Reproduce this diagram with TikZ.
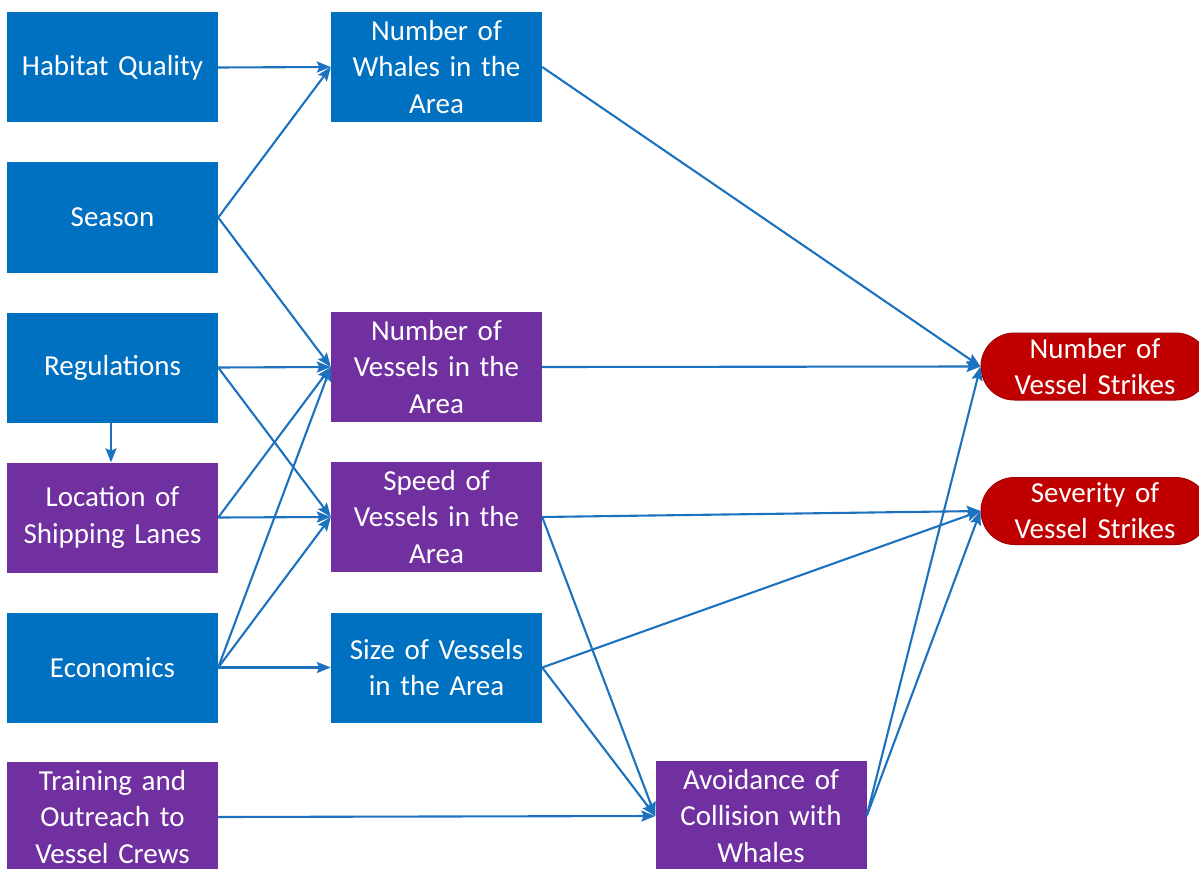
\documentclass[tikz,border=0pt]{standalone}
\usepackage{fontspec}
\setmainfont{Carlito}
\usetikzlibrary{arrows.meta,shapes.misc}
\definecolor{bblue}{HTML}{0070C0}
\definecolor{bpurple}{HTML}{7030A0}
\definecolor{bred}{HTML}{C00000}
\definecolor{ared}{HTML}{A00000}
\definecolor{arrowc}{HTML}{1C72BE}
\begin{document}
\begin{tikzpicture}[x=1pt,y=-1pt,
  boxbase/.style={inner sep=0pt, minimum width=211pt, minimum height=110pt, text width=205pt, align=center, text=white, font=\fontsize{29}{36.5}\selectfont},
  bluebox/.style={boxbase, fill=bblue},
  purplebox/.style={boxbase, fill=bpurple},
  redbox/.style={rounded rectangle, inner sep=0pt, minimum width=228pt, minimum height=67pt, text width=170pt, align=center, text=white, fill=bred, draw=ared, line width=1pt, font=\fontsize{29}{36}\selectfont},
  link/.style={draw=arrowc, line width=2.1pt, -{Stealth[length=14pt,width=11pt,inset=2.5pt]}}]
\useasboundingbox (0,0) rectangle (1199,869);
\fill[white] (0,0) rectangle (1199,869);
% left column
\node[bluebox] (hq) at (112.5,67.5) {Habitat Quality};
\node[bluebox] (season) at (112.5,217.5) {Season};
\node[bluebox] (regs) at (112.5,367.5) {Regulations};
\node[purplebox] (loc) at (112.5,517.5) {Location of\\Shipping Lanes};
\node[bluebox] (econ) at (112.5,667.5) {Economics};
\node[purplebox] (train) at (112.5,817) {Training and\\Outreach to\\Vessel Crews};
% middle column
\node[bluebox] (whales) at (436.5,67) {Number of\\Whales in the\\Area};
\node[purplebox] (numves) at (436.5,367) {Number of\\Vessels in the\\Area};
\node[purplebox] (speed) at (436.5,517) {Speed of\\Vessels in the\\Area};
\node[bluebox] (size) at (436.5,667.5) {Size of Vessels\\in the Area};
\node[purplebox] (avoid) at (761,816) {Avoidance of\\Collision with\\Whales};
% right column
\node[redbox] (strikes) at (1095,366.5) {Number of\\Vessel Strikes};
\node[redbox] (sever) at (1095,511) {Severity of\\Vessel Strikes};
% connectors
\draw[link] (hq.east) -- (whales.west);
\draw[link] (season.east) -- (whales.west);
\draw[link] (season.east) -- (numves.west);
\draw[link] (regs.east) -- (numves.west);
\draw[link] (regs.east) -- (speed.west);
\draw[link] ([xshift=-1.5pt]regs.south) -- ([xshift=-1.5pt]loc.north);
\draw[link] (loc.east) -- (numves.west);
\draw[link] (loc.east) -- (speed.west);
\draw[link] (econ.east) -- (numves.west);
\draw[link] (econ.east) -- (speed.west);
\draw[link] (econ.east) -- (size.west);
\draw[link] (train.east) -- (avoid.west);
\draw[link] (whales.east) -- (strikes.west);
\draw[link] (numves.east) -- (strikes.west);
\draw[link] (speed.east) -- (sever.west);
\draw[link] (speed.east) -- (avoid.west);
\draw[link] (size.east) -- (sever.west);
\draw[link] (size.east) -- (avoid.west);
\draw[link] (avoid.east) -- (strikes.west);
\draw[link] (avoid.east) -- (sever.west);
\end{tikzpicture}
\end{document}
